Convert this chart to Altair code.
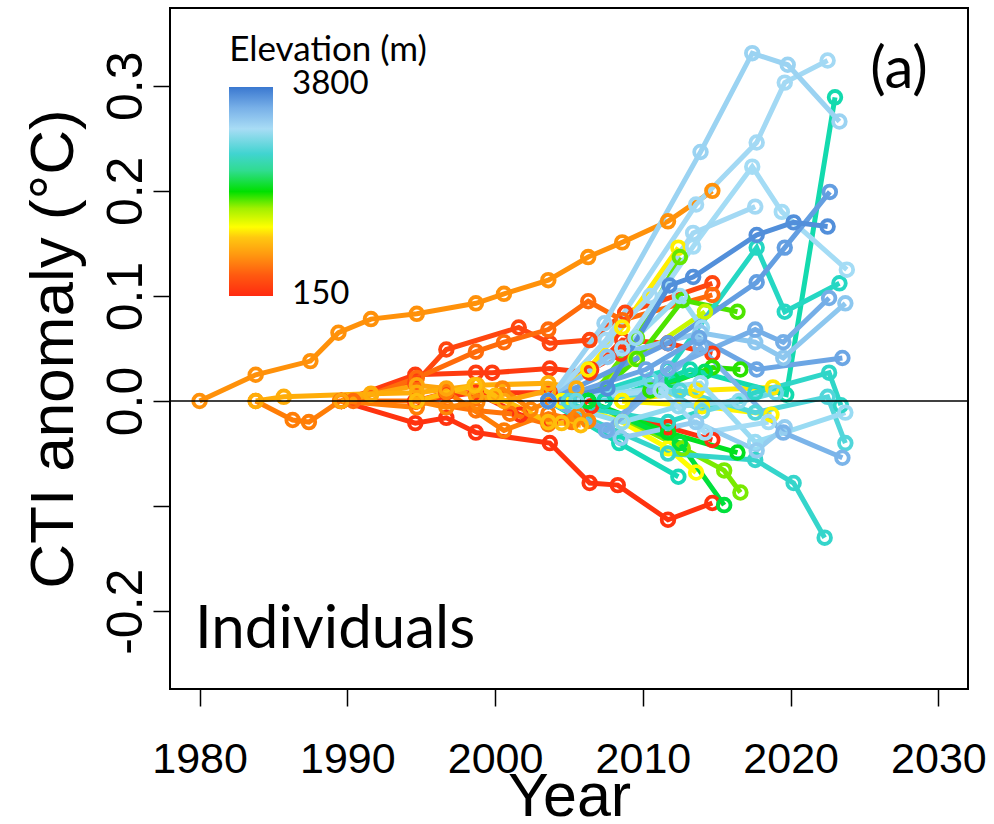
import altair as alt
import pandas as pd

# Elevation (m) of each individual's site
elevation = [
    820, 1000, 700, 200, 330, 600, 250, 180, 220, 650, 1100, 950, 750,
    1300, 1350, 1280, 1320, 1550,
    1900, 1850, 1950, 2000, 1800, 2050, 2150,
    2500, 2600, 2450, 2550, 2580, 2700,
    3150, 3100, 3050, 3650, 3550, 3450, 3250, 3400, 3000, 3500, 3200, 3100,
    2950, 2800, 3050, 3000,
]

# Survey years of each individual
years = [
    [1980.0, 1983.8, 1987.5, 1989.4, 1991.6, 1994.7, 1998.7, 2000.6, 2003.6, 2006.3, 2008.6, 2011.7, 2014.7],
    [1983.8, 1985.7, 1991.6, 1994.7, 1998.8, 2003.6, 2005.5],
    [1983.8, 1986.3, 1987.4, 1989.5, 1994.7, 1996.7, 2000.6, 2003.6, 2005.3],
    [1989.6, 1994.6, 1996.7, 1998.7, 2003.7, 2006.4, 2008.3, 2011.7, 2014.7],
    [1989.6, 1994.6, 1996.7, 2001.6, 2003.7, 2006.4, 2008.8, 2014.7],
    [1990.4, 1994.7, 1998.7, 2000.6, 2003.6, 2006.3, 2008.6, 2014.7],
    [1989.6, 1994.6, 1998.7, 1999.8, 2003.7, 2006.4, 2008.6, 2011.7, 2014.7],
    [1994.6, 1996.7, 1998.7, 2001.7, 2003.7, 2006.5, 2011.7, 2014.7],
    [1994.6, 1998.7, 2003.7, 2006.5, 2008.5],
    [1989.6, 1994.7, 1998.7, 2001.0, 2003.6, 2005.2],
    [1994.7, 1998.6, 2000.0, 2003.6, 2004.5, 2005.8],
    [1989.6, 1991.6, 1994.7, 1996.7, 1998.7, 2000.6, 2003.6],
    [1994.7, 1996.7, 1998.8, 2000.5, 2002.4, 2003.8, 2005.6, 2006.3],
    [2003.6, 2006.3, 2008.6, 2012.4],
    [2004.5, 2008.6, 2011.7, 2013.6],
    [2008.6, 2013.6, 2018.8],
    [2008.6, 2014.0, 2018.7],
    [2005.5, 2009.5, 2014.2],
    [2006.3, 2009.6, 2012.7, 2016.4],
    [2006.3, 2009.6, 2012.5],
    [2006.3, 2010.5, 2014.7, 2016.6],
    [2006.3, 2011.7, 2016.4],
    [2006.3, 2012.7, 2015.5, 2016.6],
    [2006.3, 2012.5, 2015.5],
    [2007.4, 2012.0, 2014.2],
    [2003.6, 2008.4, 2012.4],
    [2003.6, 2011.7, 2017.6, 2020.2, 2022.3],
    [2007.4, 2013.2, 2019.7, 2023.0],
    [2005.0, 2011.7, 2017.7, 2019.6, 2023.3],
    [2003.6, 2011.7, 2017.6, 2022.6, 2023.4],
    [2005.0, 2012.5, 2017.6, 2022.5, 2023.7],
    [2003.6, 2007.4, 2013.9, 2017.4, 2019.8, 2023.3],
    [2003.6, 2007.5, 2013.6, 2017.7, 2019.6, 2022.5],
    [2003.6, 2008.6, 2013.4, 2017.4, 2019.4, 2023.8],
    [2003.6, 2007.6, 2011.8, 2013.4, 2017.7, 2020.2, 2022.5],
    [2003.6, 2011.7, 2017.7, 2019.6, 2022.65],
    [2003.6, 2007.5, 2011.7, 2017.6, 2019.5, 2022.6],
    [2003.6, 2007.6, 2013.9, 2017.6, 2019.5, 2023.7],
    [2003.6, 2007.6, 2013.9, 2019.5, 2023.5],
    [2003.6, 2013.9, 2017.6, 2023.7],
    [2003.6, 2010.2, 2013.8, 2017.7, 2023.5],
    [2003.6, 2008.5, 2013.6, 2017.7, 2019.6],
    [2003.6, 2010.5, 2013.4, 2017.6],
    [2003.6, 2008.6, 2012.4, 2016.5],
    [2005.5, 2010.5, 2014.0, 2019.0],
    [2003.6, 2011.2, 2014.2, 2018.5],
    [2003.6, 2009.5, 2012.5, 2014.0],
]

# Community temperature index anomaly (°C) at each survey
cti = [
    [0.0, 0.025, 0.038, 0.065, 0.078, 0.083, 0.093, 0.102, 0.115, 0.137, 0.151, 0.171, 0.200],
    [0.0, 0.004, 0.007, 0.008, 0.015, 0.017, 0.012],
    [0.0, -0.018, -0.020, 0.0, -0.006, 0.009, -0.028, -0.012, -0.018],
    [0.0, -0.021, -0.016, -0.030, -0.040, -0.078, -0.080, -0.113, -0.097],
    [0.0, 0.017, 0.049, 0.070, 0.055, 0.058, 0.084, 0.112],
    [0.0, 0.022, 0.047, 0.056, 0.068, 0.095, 0.077, 0.101],
    [0.0, 0.025, 0.027, 0.027, 0.031, 0.027, 0.058, 0.055, 0.045],
    [0.0, 0.008, 0.008, -0.013, -0.020, -0.005, -0.025, -0.037],
    [0.0, 0.008, 0.008, 0.030, 0.045],
    [0.0, 0.0, -0.009, -0.012, -0.022, -0.020],
    [0.0, 0.015, 0.005, -0.020, -0.021, -0.023],
    [0.0, 0.006, 0.015, 0.012, 0.005, 0.0, 0.010],
    [0.0, -0.006, -0.001, 0.012, -0.008, 0.0, -0.014, -0.019],
    [0.0, 0.030, 0.070, 0.146],
    [0.0, -0.020, -0.045, -0.068],
    [0.0, 0.010, 0.013],
    [0.0, -0.005, -0.013],
    [0.0, 0.040, 0.085],
    [0.0, 0.040, 0.096, 0.085],
    [0.0, 0.060, 0.137],
    [0.0, 0.010, 0.032, 0.030],
    [0.0, -0.030, -0.049],
    [0.0, -0.045, -0.066, -0.087],
    [0.0, -0.040, -0.099],
    [0.0, 0.020, 0.028],
    [0.0, -0.040, -0.072],
    [0.0, -0.050, -0.056, -0.078, -0.130],
    [0.0, 0.030, 0.006, 0.289],
    [0.0, 0.030, 0.146, 0.085, 0.112],
    [0.0, -0.020, 0.008, 0.027, -0.004],
    [0.0, 0.010, -0.011, 0.004, -0.040],
    [0.0, 0.074, 0.237, 0.331, 0.320, 0.266],
    [0.0, 0.058, 0.187, 0.246, 0.303, 0.324],
    [0.0, 0.050, 0.147, 0.223, 0.180, 0.125],
    [0.0, 0.012, 0.110, 0.118, 0.158, 0.170, 0.166],
    [0.0, 0.055, 0.113, 0.146, 0.199],
    [0.0, -0.028, 0.031, 0.068, 0.056, 0.098],
    [0.0, 0.042, 0.065, 0.056, 0.041, 0.093],
    [0.0, -0.028, 0.051, -0.030, -0.054],
    [0.0, 0.017, -0.039, -0.011],
    [0.0, 0.030, 0.060, 0.030, 0.041],
    [0.0, -0.035, -0.020, -0.047, -0.025],
    [0.0, 0.100, 0.160, 0.185],
    [0.0, -0.020, -0.005, 0.0],
    [0.0, 0.020, -0.010, 0.008],
    [0.0, 0.010, -0.030, -0.020],
    [0.0, 0.060, 0.100, 0.070],
]

# Elevation colour ramp (red at low sites, blue at high sites)
ramp_elev = [150, 515, 880, 1172, 1355, 1683, 1975, 2340, 2632, 3070, 3435, 3800]
ramp_col = ["#ff2a10", "#ff5a10", "#ff9a10", "#ffc810", "#ffff00", "#a0f000",
            "#00e000", "#30dc90", "#40d4d0", "#a8dcf5", "#78b0e8", "#3a78d0"]

x_ticks = [1980, 1990, 2000, 2010, 2020, 2030]
y_ticks = [-0.2, -0.1, 0.0, 0.1, 0.2, 0.3]

rows = []
for sid, (elev, yrs, vals) in enumerate(zip(elevation, years, cti)):
    for step, (yr, v) in enumerate(zip(yrs, vals)):
        rows.append({"series": sid, "elevation": elev, "year": yr, "cti": v, "step": step})
df = pd.DataFrame(rows).sort_values(["elevation", "series", "step"], kind="stable")

NUM_FONT = "Liberation Sans, Arial"
ANN_FONT = "Lato"

W, H = 798, 681

x_scale = alt.Scale(domain=[1978, 2032], nice=False, zero=False)
y_scale = alt.Scale(domain=[-0.274, 0.374], nice=False, zero=False)
c_scale = alt.Scale(domain=ramp_elev, range=ramp_col, type="linear")

x_enc = alt.X(
    "year:Q", scale=x_scale,
    axis=alt.Axis(
        values=x_ticks, format="d", title="Year", grid=False, domain=False,
        tickSize=17, tickWidth=1.5, tickColor="black",
        labelFont=NUM_FONT, labelFontSize=43, labelColor="black", labelPadding=32,
        labelFlush=False, labelOverlap=False,
        titleFont=NUM_FONT, titleFontSize=61, titleFontWeight="normal", titleColor="black",
        titleX=W / 2, titleY=126, titleAlign="center", titleBaseline="alphabetic",
    ),
)
y_enc = alt.Y(
    "cti:Q", scale=y_scale,
    axis=alt.Axis(
        values=y_ticks, title="CTI anomaly (°C)", grid=False, domain=False,
        labelExpr="datum.value < -0.15 ? '-0.2' : (datum.value < -0.05 ? '' : format(datum.value, '.1f'))",
        tickSize=17, tickWidth=1.5, tickColor="black",
        labelFont=NUM_FONT, labelFontSize=50, labelColor="black", labelPadding=12,
        labelAngle=270, labelAlign="center", labelBaseline="alphabetic",
        labelFlush=False, labelOverlap=False,
        titleFont=NUM_FONT, titleFontSize=62, titleFontWeight="normal", titleColor="black",
        titleAngle=270, titleX=-98, titleY=H / 2, titleAlign="center", titleBaseline="alphabetic",
    ),
)
color_enc = alt.Color("elevation:Q", scale=c_scale, legend=None)

base = alt.Chart(df)
lines = base.mark_line(strokeWidth=5).encode(
    x=x_enc, y=y_enc, color=color_enc, detail="series:N", order="step:Q"
)
points = base.mark_point(filled=False, size=160, strokeWidth=3.8, opacity=1).encode(
    x="year:Q", y="cti:Q", color=color_enc
)
zero = alt.Chart(pd.DataFrame({"v": [0.0]})).mark_rule(color="black", strokeWidth=1.5).encode(
    y=alt.Y("v:Q", scale=y_scale)
)

one = pd.DataFrame({"k": [0]})
grad = {
    "gradient": "linear", "x1": 0, "y1": 1, "x2": 0, "y2": 0,
    "stops": [{"offset": (e - 150) / 3650, "color": c} for e, c in zip(ramp_elev, ramp_col)],
}
bar = alt.Chart(one).mark_rect(fill=grad).encode(
    x=alt.value(59), x2=alt.value(103), y=alt.value(79), y2=alt.value(288)
)


def label(text, x, y, size, align="left", font=ANN_FONT):
    return alt.Chart(one).mark_text(
        text=text, font=font, fontSize=size, align=align, baseline="alphabetic", color="black"
    ).encode(x=alt.value(x), y=alt.value(y))


legend_title = label("Elevation (m)", 158, 53, 35, align="center")
legend_hi = label("3800", 122, 86, 33)
legend_lo = label("150", 122, 296, 33)
panel = label("(a)", 729, 80, 58, align="center")
group = label("Individuals", 25, 640, 60)

chart = alt.layer(
    lines, points, zero, bar, legend_title, legend_hi, legend_lo, panel, group
).properties(
    width=W, height=H,
    padding={"left": 170, "top": 8, "right": 26, "bottom": 135},
    autosize=alt.AutoSizeParams(type="none"),
    background="white",
).configure_view(stroke="black", strokeWidth=2)

chart.save("out.html", embed_options={"renderer": "svg", "actions": False})
